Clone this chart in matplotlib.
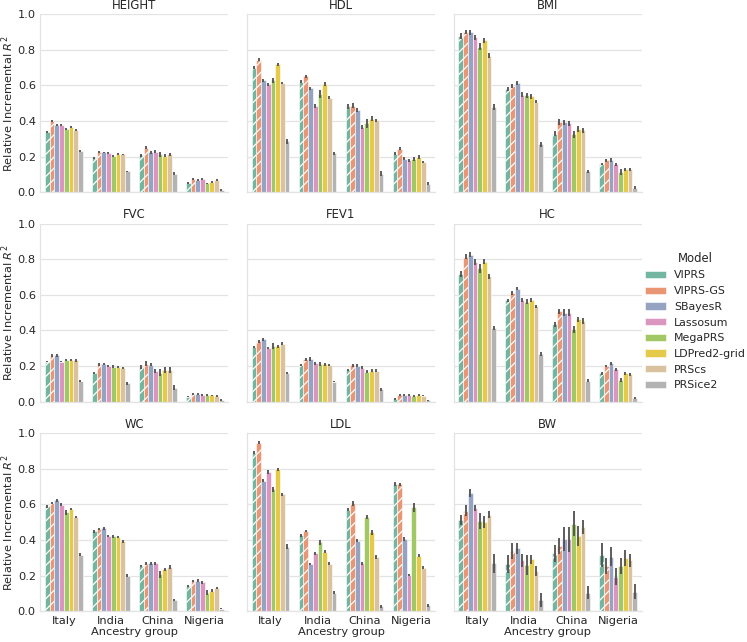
import numpy as np
import matplotlib
matplotlib.use("Agg")
import matplotlib.pyplot as plt
import matplotlib.patches as mpatches
import seaborn as sns

groups = ["Italy", "India", "China", "Nigeria"]
models = ["VIPRS", "VIPRS-GS", "SBayesR", "Lassosum", "MegaPRS", "LDPred2-grid", "PRScs", "PRSice2"]
traits = ["HEIGHT", "HDL", "BMI", "FVC", "FEV1", "HC", "WC", "LDL", "BW"]

# values[trait][group] -> list over models
values = {
    "HEIGHT": [[0.34, 0.40, 0.375, 0.375, 0.355, 0.368, 0.347, 0.23],
               [0.19, 0.227, 0.223, 0.221, 0.205, 0.216, 0.212, 0.116],
               [0.206, 0.25, 0.225, 0.227, 0.212, 0.205, 0.212, 0.103],
               [0.05, 0.075, 0.07, 0.073, 0.049, 0.058, 0.066, 0.013]],
    "HDL": [[0.70, 0.745, 0.628, 0.606, 0.628, 0.718, 0.612, 0.285],
            [0.621, 0.651, 0.583, 0.482, 0.553, 0.606, 0.531, 0.218],
            [0.482, 0.486, 0.463, 0.366, 0.388, 0.413, 0.403, 0.103],
            [0.216, 0.244, 0.188, 0.178, 0.186, 0.197, 0.171, 0.047]],
    "BMI": [[0.878, 0.90, 0.897, 0.869, 0.816, 0.852, 0.767, 0.477],
            [0.578, 0.597, 0.612, 0.548, 0.544, 0.538, 0.507, 0.268],
            [0.328, 0.394, 0.392, 0.386, 0.325, 0.355, 0.347, 0.116],
            [0.158, 0.178, 0.182, 0.156, 0.113, 0.128, 0.128, 0.024]],
    "FVC": [[0.225, 0.257, 0.261, 0.225, 0.235, 0.235, 0.233, 0.116],
            [0.161, 0.21, 0.212, 0.20, 0.197, 0.195, 0.19, 0.103],
            [0.193, 0.214, 0.208, 0.171, 0.163, 0.178, 0.178, 0.079],
            [0.028, 0.043, 0.043, 0.038, 0.038, 0.036, 0.032, 0.009]],
    "FEV1": [[0.306, 0.34, 0.351, 0.302, 0.313, 0.31, 0.325, 0.16],
             [0.206, 0.238, 0.24, 0.216, 0.212, 0.21, 0.206, 0.113],
             [0.18, 0.205, 0.203, 0.19, 0.169, 0.173, 0.174, 0.069],
             [0.015, 0.036, 0.039, 0.038, 0.032, 0.039, 0.034, 0.009]],
    "HC": [[0.717, 0.814, 0.826, 0.784, 0.749, 0.786, 0.704, 0.413],
           [0.57, 0.61, 0.634, 0.572, 0.561, 0.572, 0.535, 0.268],
           [0.435, 0.507, 0.50, 0.50, 0.407, 0.463, 0.454, 0.118],
           [0.159, 0.20, 0.216, 0.182, 0.122, 0.159, 0.154, 0.019]],
    "WC": [[0.589, 0.608, 0.623, 0.597, 0.556, 0.574, 0.529, 0.318],
           [0.448, 0.461, 0.465, 0.42, 0.42, 0.418, 0.392, 0.20],
           [0.254, 0.269, 0.269, 0.269, 0.207, 0.235, 0.247, 0.062],
           [0.141, 0.171, 0.171, 0.162, 0.104, 0.115, 0.128, 0.015]],
    "LDL": [[0.891, 0.947, 0.734, 0.782, 0.684, 0.797, 0.657, 0.363],
            [0.426, 0.452, 0.264, 0.326, 0.386, 0.335, 0.266, 0.104],
            [0.571, 0.605, 0.397, 0.269, 0.529, 0.443, 0.303, 0.028],
            [0.714, 0.712, 0.405, 0.203, 0.584, 0.311, 0.245, 0.032]],
    "BW": [[0.51, 0.565, 0.665, 0.578, 0.508, 0.501, 0.542, 0.269],
           [0.266, 0.337, 0.354, 0.286, 0.26, 0.292, 0.228, 0.062],
           [0.326, 0.367, 0.405, 0.405, 0.492, 0.42, 0.473, 0.104],
           [0.316, 0.254, 0.307, 0.194, 0.254, 0.298, 0.286, 0.109]],
}

# error-bar half widths
errors = {
    "HEIGHT": [[0.006, 0.006, 0.006, 0.006, 0.008, 0.006, 0.006, 0.006],
               [0.005, 0.006, 0.005, 0.005, 0.006, 0.005, 0.005, 0.005],
               [0.008, 0.01, 0.008, 0.008, 0.012, 0.008, 0.008, 0.008],
               [0.005, 0.005, 0.005, 0.005, 0.005, 0.005, 0.005, 0.004]],
    "HDL": [[0.01, 0.008, 0.01, 0.008, 0.015, 0.01, 0.006, 0.012],
            [0.01, 0.008, 0.01, 0.012, 0.022, 0.012, 0.008, 0.01],
            [0.015, 0.015, 0.012, 0.01, 0.025, 0.015, 0.01, 0.015],
            [0.01, 0.01, 0.008, 0.008, 0.01, 0.01, 0.006, 0.008]],
    "BMI": [[0.015, 0.01, 0.015, 0.015, 0.02, 0.012, 0.012, 0.018],
            [0.01, 0.01, 0.01, 0.012, 0.015, 0.012, 0.008, 0.012],
            [0.015, 0.015, 0.015, 0.015, 0.02, 0.015, 0.015, 0.01],
            [0.008, 0.01, 0.01, 0.01, 0.015, 0.01, 0.01, 0.008]],
    "FVC": [[0.005, 0.008, 0.008, 0.005, 0.007, 0.007, 0.008, 0.006],
            [0.007, 0.007, 0.007, 0.007, 0.01, 0.007, 0.007, 0.007],
            [0.012, 0.012, 0.01, 0.012, 0.018, 0.015, 0.015, 0.012],
            [0.004, 0.004, 0.004, 0.004, 0.004, 0.004, 0.004, 0.004]],
    "FEV1": [[0.006, 0.008, 0.008, 0.006, 0.015, 0.008, 0.008, 0.006],
             [0.007, 0.01, 0.01, 0.008, 0.01, 0.008, 0.008, 0.005],
             [0.006, 0.008, 0.008, 0.008, 0.01, 0.008, 0.008, 0.01],
             [0.004, 0.005, 0.006, 0.006, 0.008, 0.005, 0.005, 0.003]],
    "HC": [[0.015, 0.015, 0.015, 0.015, 0.025, 0.015, 0.015, 0.01],
           [0.008, 0.01, 0.008, 0.01, 0.015, 0.012, 0.01, 0.01],
           [0.015, 0.015, 0.02, 0.02, 0.02, 0.015, 0.015, 0.008],
           [0.008, 0.008, 0.008, 0.008, 0.01, 0.008, 0.008, 0.006]],
    "WC": [[0.008, 0.008, 0.008, 0.008, 0.015, 0.008, 0.006, 0.008],
           [0.006, 0.006, 0.008, 0.006, 0.008, 0.006, 0.008, 0.01],
           [0.006, 0.008, 0.01, 0.01, 0.02, 0.01, 0.012, 0.006],
           [0.006, 0.006, 0.008, 0.008, 0.015, 0.01, 0.006, 0.005]],
    "LDL": [[0.008, 0.01, 0.008, 0.01, 0.015, 0.01, 0.008, 0.012],
            [0.008, 0.006, 0.006, 0.008, 0.012, 0.006, 0.008, 0.008],
            [0.01, 0.015, 0.008, 0.01, 0.012, 0.015, 0.01, 0.008],
            [0.012, 0.01, 0.012, 0.008, 0.025, 0.008, 0.01, 0.006]],
    "BW": [[0.028, 0.03, 0.024, 0.018, 0.045, 0.036, 0.02, 0.052],
           [0.05, 0.045, 0.03, 0.038, 0.054, 0.025, 0.028, 0.038],
           [0.047, 0.044, 0.069, 0.07, 0.07, 0.056, 0.042, 0.036],
           [0.067, 0.047, 0.055, 0.047, 0.047, 0.043, 0.036, 0.041]],
}

hatched = ["VIPRS", "VIPRS-GS"]

palette = [sns.desaturate(c, 0.75) for c in sns.color_palette("Set2", len(models))]
txt = "#262626"
gridc = "#e3e3e3"

plt.rcParams["font.family"] = ["DejaVu Sans"]
plt.rcParams["hatch.linewidth"] = 0.9

fig, axes = plt.subplots(3, 3, figsize=(7.47, 6.42), dpi=100, sharex=True, sharey=True)
fig.subplots_adjust(left=0.054, right=0.859, bottom=0.048, top=0.978, wspace=0.1, hspace=0.177)

x = np.arange(len(groups))
w = 0.8 / len(models)
fs = 8.2
lfs = 7.9

for ax, trait in zip(axes.flat, traits):
    vals = np.array(values[trait])
    errs = np.array(errors[trait])
    for j, m in enumerate(models):
        pos = x - 0.4 + w * (j + 0.5)
        ax.bar(pos, vals[:, j], width=w, color=palette[j], edgecolor="white",
               linewidth=0.4, hatch="///" if m in hatched else None, zorder=2)
        ax.errorbar(pos, vals[:, j], yerr=errs[:, j], fmt="none", ecolor="#505050",
                    elinewidth=1.3, capsize=0, zorder=3)
    ax.set_title(trait, fontsize=fs + 0.2, color=txt, pad=4)
    ax.set_ylim(0, 1.0)
    ax.set_xlim(-0.5, 3.5)
    ax.set_yticks([0, 0.2, 0.4, 0.6, 0.8, 1.0])
    ax.yaxis.grid(True, color=gridc, linewidth=0.9, zorder=0)
    ax.xaxis.grid(False)
    ax.set_axisbelow(True)
    for s in ["top", "right"]:
        ax.spines[s].set_visible(False)
    for s in ["left", "bottom"]:
        ax.spines[s].set_color(gridc)
        ax.spines[s].set_linewidth(0.9)
    ax.tick_params(length=0, labelsize=fs, colors=txt, pad=3.3)
    ax.set_facecolor("white")

for r in range(3):
    axes[r, 0].set_ylabel("Relative Incremental $R^2$", fontsize=fs, color=txt, labelpad=1)
    axes[r, 0].set_yticklabels(["0.0", "0.2", "0.4", "0.6", "0.8", "1.0"])
for c in range(3):
    axes[2, c].set_xticks(x)
    axes[2, c].set_xticklabels(groups)
    axes[2, c].set_xlabel("Ancestry group", fontsize=fs, color=txt, labelpad=1.2)

handles = [mpatches.Patch(facecolor=palette[j], edgecolor="white", linewidth=0.4, label=m)
           for j, m in enumerate(models)]
leg = fig.legend(handles=handles, title="Model", loc="center left",
                 bbox_to_anchor=(0.85, 0.5), frameon=False, fontsize=lfs,
                 title_fontsize=fs + 0.2, labelspacing=0.52, handlelength=1.9,
                 handleheight=0.65, handletextpad=0.75)
for t in leg.get_texts():
    t.set_color(txt)
leg.get_title().set_color(txt)

fig.savefig("out.png", dpi=100, facecolor="white")
